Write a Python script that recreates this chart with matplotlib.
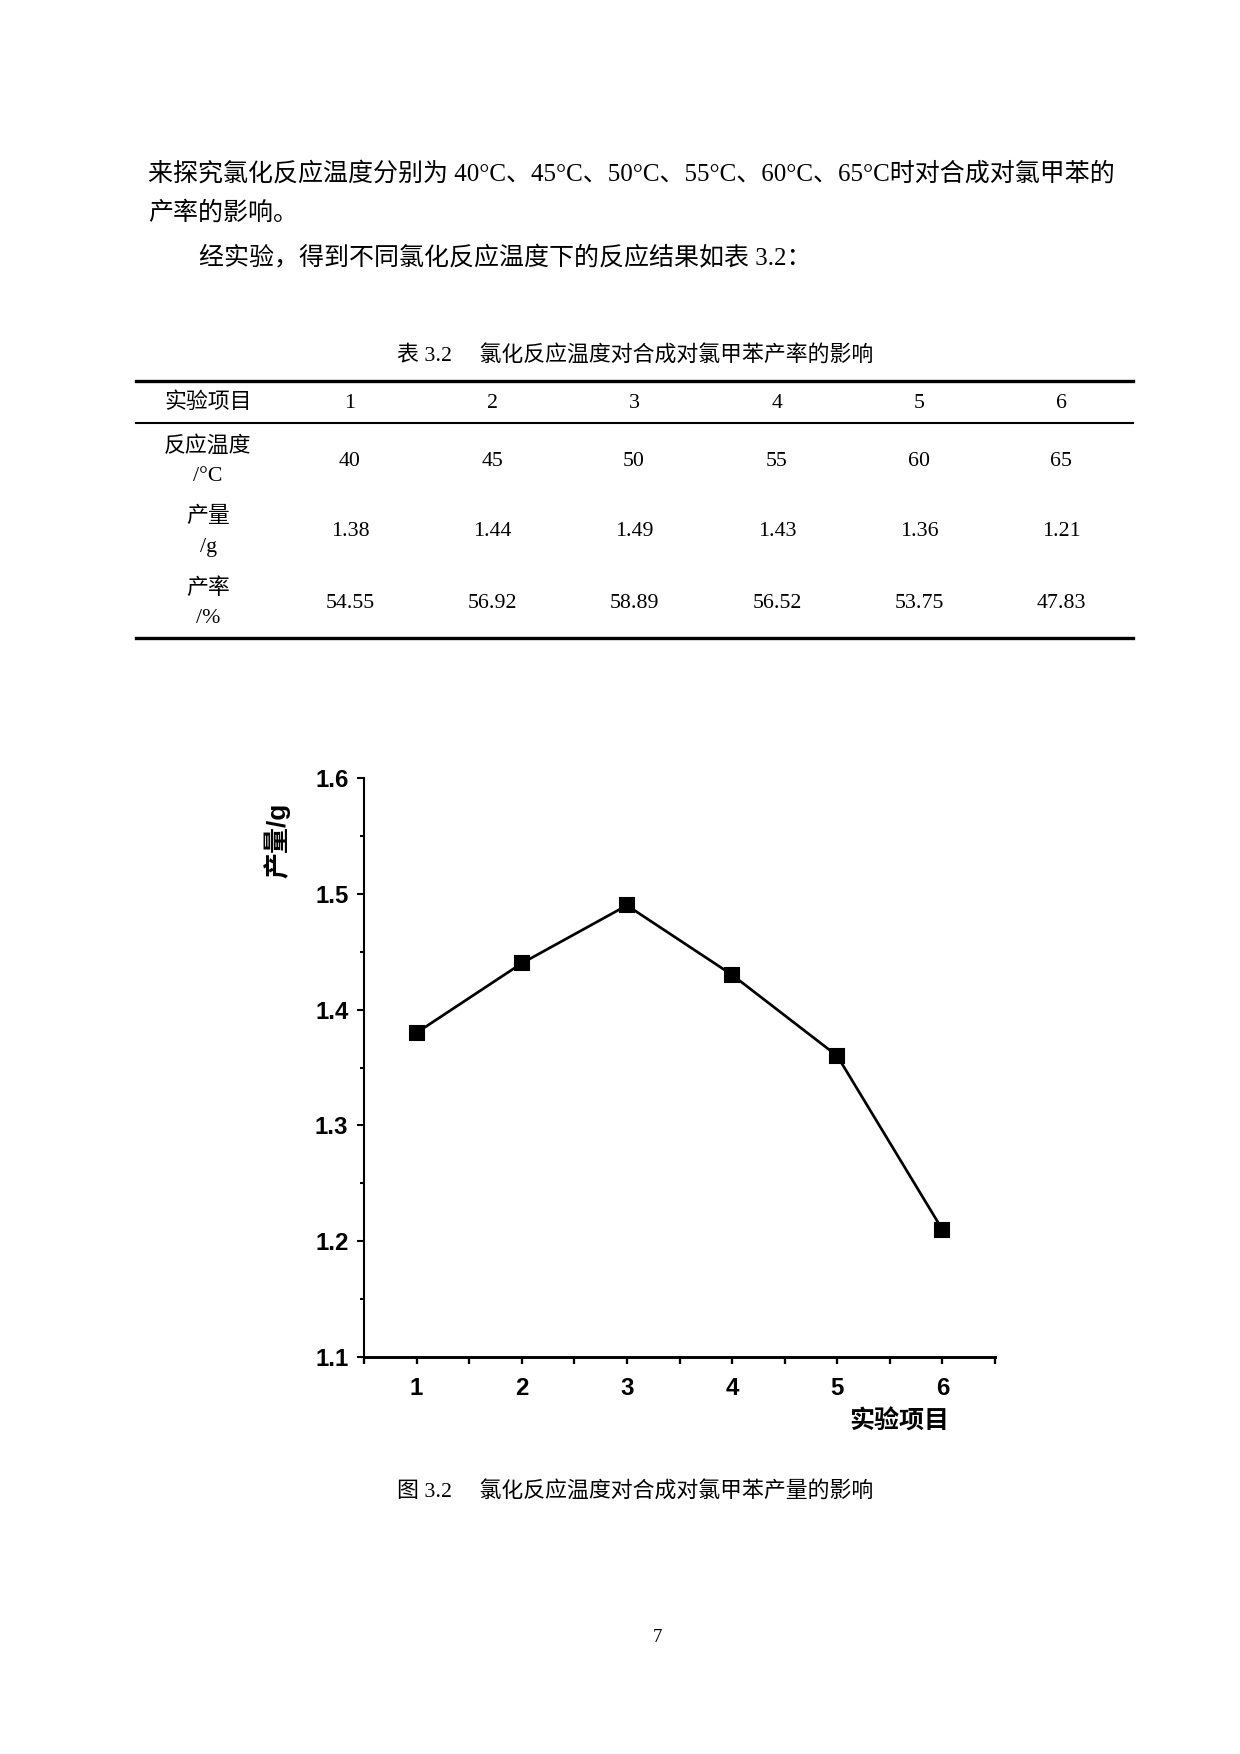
import numpy as np
import matplotlib
matplotlib.use("Agg")
import matplotlib.pyplot as plt
from matplotlib.ticker import MultipleLocator

# ==============================
# Datos de la tabla / gráfica
# ==============================
proyectos = [1, 2, 3, 4, 5, 6]
temperaturas = [40, 45, 50, 55, 60, 65]
produccion = [1.38, 1.44, 1.49, 1.43, 1.36, 1.21]
rendimiento = [54.55, 56.92, 58.89, 56.52, 53.75, 47.83]

etiquetas_filas = ["实验项目", "反应温度\n/°C", "产量\n/g", "产率\n/%"]

SERIF = ["Liberation Serif", "Noto Sans CJK SC"]
SANS = ["Liberation Sans", "Noto Sans CJK SC"]

W, H = 1240, 1754
fig = plt.figure(figsize=(W / 150, H / 150), dpi=150)

# Capa de fondo en coordenadas de píxel
ax0 = fig.add_axes([0, 0, 1, 1])
ax0.set_xlim(0, W)
ax0.set_ylim(H, 0)
ax0.axis("off")

# ==============================
# Texto del cuerpo
# ==============================
ax0.text(148, 174, "来探究氯化反应温度分别为 40°C、45°C、50°C、55°C、60°C、65°C时对合成对氯甲苯的",
         fontsize=12, family=SERIF, ha="left", va="center")
ax0.text(148, 213, "产率的影响。", fontsize=12, family=SERIF, ha="left", va="center")
ax0.text(199, 258, "经实验，得到不同氯化反应温度下的反应结果如表 3.2：",
         fontsize=12, family=SERIF, ha="left", va="center")

# ==============================
# Tabla 3.2
# ==============================
ax0.text(635, 356, "表 3.2     氯化反应温度对合成对氯甲苯产率的影响",
         fontsize=10.5, family=SERIF, ha="center", va="center")

x_izq, x_der = 136, 1133
ax0.plot([x_izq, x_der], [381, 381], color="black", lw=1.6)
ax0.plot([x_izq, x_der], [423, 423], color="black", lw=1.0)
ax0.plot([x_izq, x_der], [638, 638], color="black", lw=1.6)

x_cols = [208, 350, 492, 634, 777, 919, 1061]
y_filas = [403, 461, 532, 603]

filas = [proyectos, temperaturas, ["%.2f" % v for v in produccion],
         ["%.2f" % v for v in rendimiento]]

for etiqueta, y, valores in zip(etiquetas_filas, y_filas, filas):
    ax0.text(x_cols[0], y, etiqueta, fontsize=10.5, family=SERIF,
             ha="center", va="center", linespacing=1.75)
    for xc, v in zip(x_cols[1:], valores):
        ax0.text(xc, y, str(v), fontsize=10.5, family=SERIF,
                 ha="center", va="center")

# ==============================
# Gráfica
# ==============================
left, right, top, bottom = 364, 995, 778, 1357
ax = fig.add_axes([left / W, 1 - bottom / H, (right - left) / W, (bottom - top) / H])

ax.plot(proyectos, produccion, color="black", lw=1.3, marker="s",
        markersize=7, markerfacecolor="black", markeredgecolor="black")

ax.set_xlim(0.5, 6.5)
ax.set_ylim(1.1, 1.6)

for s in ["top", "right"]:
    ax.spines[s].set_visible(False)
ax.spines["left"].set_linewidth(1.0)
ax.spines["bottom"].set_linewidth(1.4)

ax.set_xticks(proyectos)
ax.set_xticks(np.arange(0.5, 7.0, 1.0), minor=True)
ax.yaxis.set_major_locator(MultipleLocator(0.1))
ax.yaxis.set_minor_locator(MultipleLocator(0.05))

ax.tick_params(axis="x", which="both", direction="out", length=3.5, width=1.1, pad=6)
ax.tick_params(axis="y", which="major", direction="out", length=3.5, width=1.0, pad=4)
ax.tick_params(axis="y", which="minor", direction="out", length=1.8, width=1.0)

ax.set_xticklabels([str(p) for p in proyectos], family=SANS,
                   fontweight="bold", fontsize=11.5)
ax.set_yticklabels(["%.1f" % v for v in ax.get_yticks()], family=SANS,
                   fontweight="bold", fontsize=11.5)

ax.set_ylabel("产量/g", family=SANS, fontweight="bold", fontsize=12.5)
ax.yaxis.set_label_coords(-0.117, 0.893)
ax.set_xlabel("实验项目", family=SANS, fontweight="bold", fontsize=12)
ax.xaxis.set_label_coords(0.849, -0.09)

# ==============================
# Pie de figura y número de página
# ==============================
ax0.text(635, 1492, "图 3.2     氯化反应温度对合成对氯甲苯产量的影响",
         fontsize=10.5, family=SERIF, ha="center", va="center")
ax0.text(657, 1637, "7", fontsize=9, family=SERIF, ha="center", va="center")

fig.savefig("out.png", dpi=150)
